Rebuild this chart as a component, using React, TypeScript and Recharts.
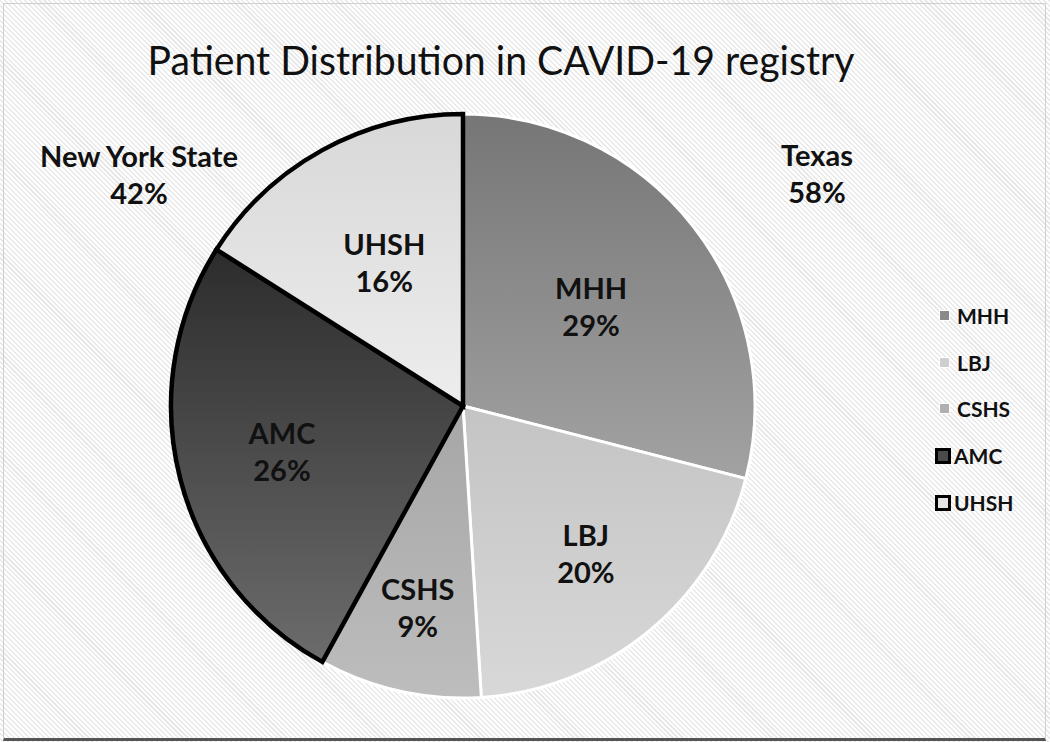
import React from 'react';
import { PieChart, Pie, Cell, Legend } from 'recharts';

const categories = ['MHH', 'LBJ', 'CSHS', 'AMC', 'UHSH'];
const shares = [29, 20, 9, 26, 16];
const regions = ['Texas', 'Texas', 'Texas', 'New York State', 'New York State'];

const data = categories.map((name, i) => ({ name, value: shares[i], region: regions[i] }));
const texasTotal = data.filter((d) => d.region === 'Texas').reduce((s, d) => s + d.value, 0);
const nyTotal = data.filter((d) => d.region === 'New York State').reduce((s, d) => s + d.value, 0);

const gradTop = ['#767676', '#c4c4c4', '#a6a6a6', '#2c2c2c', '#d8d8d8'];
const gradBottom = ['#a2a2a2', '#d8d8d8', '#bdbdbd', '#6c6c6c', '#ededed'];
const strokes = ['#ffffff', '#ffffff', '#ffffff', '#000000', '#000000'];
const strokeW = [3, 3, 3, 4.5, 4.5];
const labelFactor = [0.555, 0.66, 0.71, 0.64, 0.56];
const legendFill = ['#8a8a8a', '#cfcfcf', '#b0b0b0', '#4a4a4a', '#e4e4e4'];

const FONT = 'Lato, "Open Sans", sans-serif';
const RAD = Math.PI / 180;

const renderLabel = (props: any) => {
  const { cx, cy, midAngle, outerRadius, index, name, value } = props;
  const r = outerRadius * labelFactor[index];
  const x = cx + r * Math.cos(-midAngle * RAD);
  const y = cy + r * Math.sin(-midAngle * RAD);
  return (
    <text x={x} y={y} textAnchor="middle" fontFamily={FONT} fontWeight={700} fontSize={29} fill="#111">
      <tspan x={x} dy={-8}>{name}</tspan>
      <tspan x={x} dy={37}>{value}%</tspan>
    </text>
  );
};

const renderLegend = () => (
  <div style={{ fontFamily: FONT, fontWeight: 700, fontSize: 21, color: '#111' }}>
    {data.map((d, i) => {
      const big = i >= 3;
      return (
        <div key={d.name} style={{ display: 'flex', alignItems: 'center', height: 46.8 }}>
          <span
            style={{
              display: 'inline-block',
              width: big ? 10 : 9,
              height: big ? 10 : 9,
              background: legendFill[i],
              border: big ? '3.5px solid #000' : '1px solid #fff',
              marginLeft: big ? 0 : 4,
              marginRight: big ? 3 : 7,
            }}
          />
          <span>{d.name}</span>
        </div>
      );
    })}
  </div>
);

export default function App() {
  return (
    <div
      style={{
        position: 'absolute',
        left: 0,
        top: 0,
        width: 1050,
        height: 742,
        background: 'repeating-linear-gradient(45deg, #ffffff 0px, #ffffff 2px, #e9e9e9 2px, #e9e9e9 3.5px)',
      }}
    >
      <div
        style={{
          position: 'absolute',
          left: 3,
          top: 3,
          width: 1041,
          height: 734,
          border: '1.5px solid #cfcfcf',
          borderBottom: '3px solid #555',
        }}
      />
      <div style={{ position: 'absolute', left: 0, top: 0 }}>
        <PieChart width={1050} height={742} margin={{ top: 0, right: 0, bottom: 0, left: 0 }}>
          <defs>
            {categories.map((c, i) => (
              <linearGradient key={c} id={`g${i}`} x1="0" y1="0" x2="0" y2="1">
                <stop offset="0%" stopColor={gradTop[i]} />
                <stop offset="100%" stopColor={gradBottom[i]} />
              </linearGradient>
            ))}
          </defs>
          <Pie
            data={data}
            dataKey="value"
            nameKey="name"
            cx={463}
            cy={406}
            outerRadius={292}
            startAngle={90}
            endAngle={-270}
            label={renderLabel}
            labelLine={false}
            isAnimationActive={false}
          >
            {data.map((d, i) => (
              <Cell key={d.name} fill={`url(#g${i})`} stroke={strokes[i]} strokeWidth={strokeW[i]} />
            ))}
          </Pie>
          <Legend
            layout="vertical"
            align="right"
            verticalAlign="top"
            content={renderLegend}
            wrapperStyle={{ left: 935, top: 292, width: 110 }}
          />
        </PieChart>
      </div>
      <svg width={1050} height={742} style={{ position: 'absolute', left: 0, top: 0, pointerEvents: 'none' }}>
        <text x={501} y={75} textAnchor="middle" fontFamily={FONT} fontSize={40} fill="#111" textLength={707} lengthAdjust="spacingAndGlyphs">
          Patient Distribution in CAVID-19 registry
        </text>
        <text x={817} y={166} textAnchor="middle" fontFamily={FONT} fontWeight={700} fontSize={29} fill="#111">Texas</text>
        <text x={817} y={203} textAnchor="middle" fontFamily={FONT} fontWeight={700} fontSize={29} fill="#111">{texasTotal}%</text>
        <text x={139} y={167} textAnchor="middle" fontFamily={FONT} fontWeight={700} fontSize={29} fill="#111">New York State</text>
        <text x={139} y={204} textAnchor="middle" fontFamily={FONT} fontWeight={700} fontSize={29} fill="#111">{nyTotal}%</text>
      </svg>
    </div>
  );
}
